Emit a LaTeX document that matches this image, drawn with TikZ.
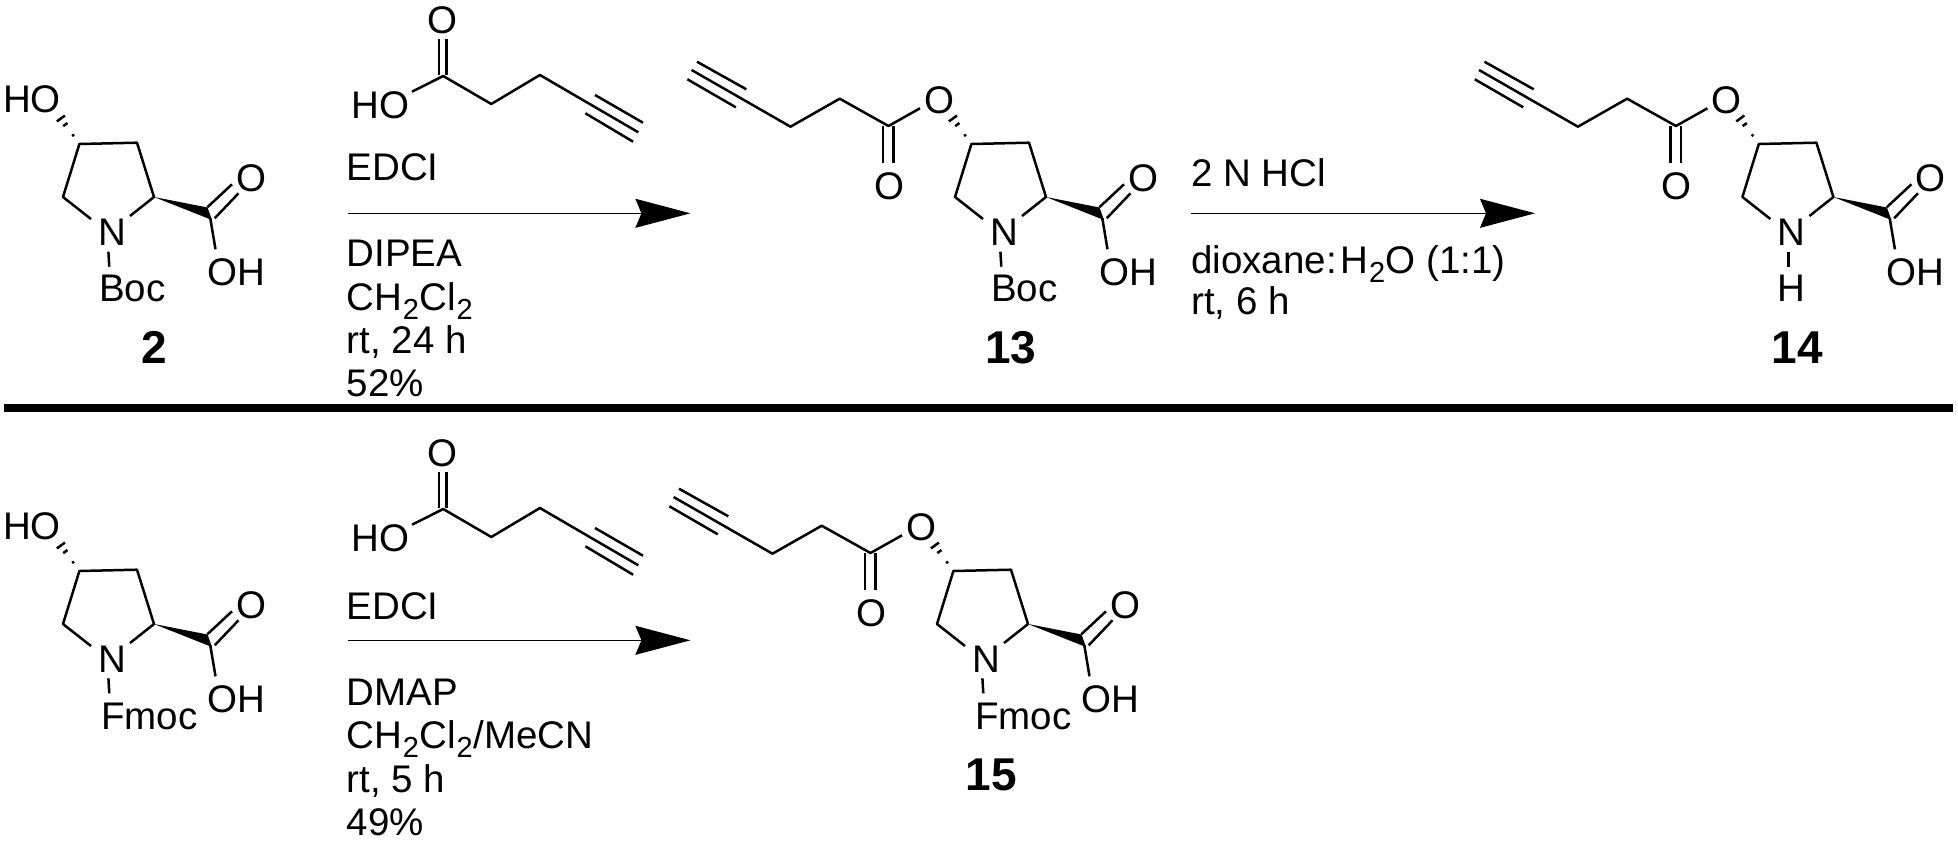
\documentclass[tikz,border=0pt]{standalone}
\usepackage{fontspec}
\setmainfont{Liberation Sans}
\usetikzlibrary{calc}
\newcommand{\atomsize}{\fontsize{38.5}{40}\selectfont}
\newcommand{\chemlow}[1]{\kern.6pt\raisebox{-.24em}{\fontsize{29}{30}\selectfont #1}\kern.6pt}
\tikzset{
  bond/.style={line width=2.5pt,line cap=butt,line join=round},
  atom/.style={inner sep=0pt,anchor=base,font=\atomsize},
  cmpd/.style={inner sep=0pt,anchor=base,font=\fontsize{46}{48}\selectfont\bfseries},
  reagent/.style={inner sep=0pt,anchor=base west,font=\atomsize},
  rxnline/.style={line width=1.2pt}
}
% proline core, frame of compound 2
\newcommand{\prolinecore}[3]{%
\begin{scope}[shift={(#2,#3)}]
  \coordinate (#1c4) at (79.4,144);
  \coordinate (#1c3) at (137,142.7);
  \coordinate (#1c2) at (154,197);
  \coordinate (#1c5) at (63,197);
  \coordinate (#1nl) at (91,219);
  \coordinate (#1nr) at (130,216);
  \coordinate (#1cc) at (210.3,218.3);
  \coordinate (#1wa) at (207.5,207.5);
  \coordinate (#1wb) at (212,220);
  \coordinate (#1oh) at (215.5,249.3);
  \coordinate (#1ha) at (58.4,115);
  \node[atom] (#1N) at (112.3,245) {N};
  \node[atom] (#1O) at (251.5,191.7) {O};
  \node[atom] (#1OH) at (236.3,285) {OH};
  \draw[bond] (#1nl) -- (#1c5) -- (#1c4) -- (#1c3) -- (#1c2) -- (#1nr);
  \fill (#1c2) -- (#1wa) -- (#1wb) -- cycle;
  \draw[bond] (#1cc) -- (#1oh);
  \draw[bond] (207.3,207.3) -- (232,184.3);
  \draw[bond] (214.7,218.3) -- (238.5,193.3);
  \foreach \t/\w in {.3/1.2,.67/2.6,.88/5}
    \draw[line width=2.5pt] ($(#1c4)!\t!(#1ha)!\w pt!90:(#1ha)$) -- ($(#1c4)!\t!(#1ha)!\w pt!-90:(#1ha)$);
\end{scope}}
% pentynoate ester on the hashed bond
\newcommand{\esterchain}[3]{%
\begin{scope}[shift={(#2,#3)}]
  \node[atom] (#1eO) at (47.5,113.3) {O};
  \node[atom] (#1cO) at (-2.6,199) {O};
  \coordinate (#1oe) at (28,108.3);
  \coordinate (#1ec) at (-3.5,126);
  \coordinate (#1m1) at (-52.3,98.7);
  \coordinate (#1m2) at (-101.5,126.7);
  \coordinate (#1yn) at (-200.4,70);
  \draw[bond] (#1oe) -- (#1ec) -- (#1m1) -- (#1m2) -- (#1yn);
  \draw[bond] (-9,126) -- (-9,162.7);
  \draw[bond] (1.6,126) -- (1.6,162.7);
  \draw[bond] (-195,61.7) -- (-145.7,89.3);
  \draw[bond] (-204.6,79.3) -- (-156.2,107.3);
\end{scope}}
% pentynoic acid reagent
\newcommand{\acid}[2]{%
\begin{scope}[shift={(0,#2)}]
  \node[atom] (#1O) at (442.3,33.3) {O};
  \node[atom] (#1HO) at (380.3,118.3) {HO};
  \coordinate (#1a) at (412,91.7);
  \coordinate (#1b) at (443.2,76);
  \coordinate (#1c) at (491.3,104);
  \coordinate (#1d) at (539.9,75);
  \coordinate (#1e) at (638.3,132.3);
  \draw[bond] (#1a) -- (#1b) -- (#1c) -- (#1d) -- (#1e);
  \draw[bond] (438.9,39.3) -- (438.9,75);
  \draw[bond] (446.7,39.3) -- (446.7,75);
  \draw[bond] (595,95) -- (643,122.7);
  \draw[bond] (585.4,113.3) -- (633.1,141.7);
\end{scope}}
% reaction arrow: start x, tip x, y
\newcommand{\rxnarrow}[4]{%
  \coordinate (#1s) at (#2,#4);
  \coordinate (#1t) at (#3,#4);
  \coordinate (#1n) at (#3-49,#4);
  \draw[rxnline] (#1s) -- (#1n);
  \fill (#1t) -- (#3-55.1,#4-14.6) -- (#1n) -- (#3-55.1,#4+14.6) -- cycle;}
\begin{document}
\begin{tikzpicture}[x=1pt,y=-1pt]
\useasboundingbox (0,0) rectangle (1958,841);
\fill[white] (0,0) rectangle (1958,841);

% top row
\prolinecore{a}{0}{0}
\node[atom] (aHO) at (32,112.8) {HO};
\draw[bond] (108.4,251.7) -- (109.3,266.7);
\node[atom] (aBoc) at (132.3,301.7) {Boc};
\node[cmpd] (a2) at (154.4,363.3) {2};

\acid{ra}{0}
\rxnarrow{ua}{348.3}{690.4}{213.3}
\node[reagent] (edcia) at (346.5,180.7) {EDCI};
\node[reagent] (dipea) at (346.5,266) {DIPEA};
\node[reagent] (dcma) at (346.5,310) {CH\chemlow{2}Cl\chemlow{2}};
\node[reagent] (tima) at (346.5,353.8) {rt, 24 h};
\node[reagent] (yida) at (346.5,396.5) {52\%};

\prolinecore{b}{892}{0}
\esterchain{b}{892}{0}
\draw[bond] (1000.4,251.7) -- (1001.3,266.7);
\node[atom] (bBoc) at (1024.3,301.7) {Boc};
\node[cmpd] (b13) at (1010.6,363.3) {13};

\rxnarrow{ub}{1191}{1535}{213.3}
\node[reagent] (hcl) at (1191,186.7) {2 N HCl};
\node[reagent] (diox) at (1191,273.3) {dioxane:\kern4pt H\chemlow{2}O (1:1)};
\node[reagent] (timb) at (1191,314.5) {rt, 6 h};

\prolinecore{c}{1679.4}{0}
\esterchain{c}{1679.4}{0}
\draw[bond] (1788.4,251.7) -- (1788.4,266.7);
\node[atom] (cH) at (1791.8,301.7) {H};
\node[cmpd] (c14) at (1797.3,363.3) {14};

% separator
\fill (3.5,404) rectangle (1953,412);

% bottom row
\prolinecore{d}{0}{427}
\node[atom] (dHO) at (32,539.8) {HO};
\draw[bond] (108.4,678.3) -- (109.3,693.3);
\node[atom,anchor=base west] (dFmoc) at (101,729) {Fmoc};

\acid{rd}{433}
\rxnarrow{ud}{348.3}{690.4}{640.3}
\node[reagent] (edcid) at (346.5,619) {EDCI};
\node[reagent] (dmap) at (346.5,705) {DMAP};
\node[reagent] (dcmd) at (346.5,748.3) {CH\chemlow{2}Cl\chemlow{2}/MeCN};
\node[reagent] (timd) at (346.5,792.3) {rt, 5 h};
\node[reagent] (yidd) at (346.5,835) {49\%};

\prolinecore{e}{874}{427}
\esterchain{e}{874}{427}
\draw[bond] (982.4,678.3) -- (983.3,693.3);
\node[atom,anchor=base west] (eFmoc) at (975,729) {Fmoc};
\node[cmpd] (e15) at (991,790.3) {15};
\end{tikzpicture}
\end{document}
